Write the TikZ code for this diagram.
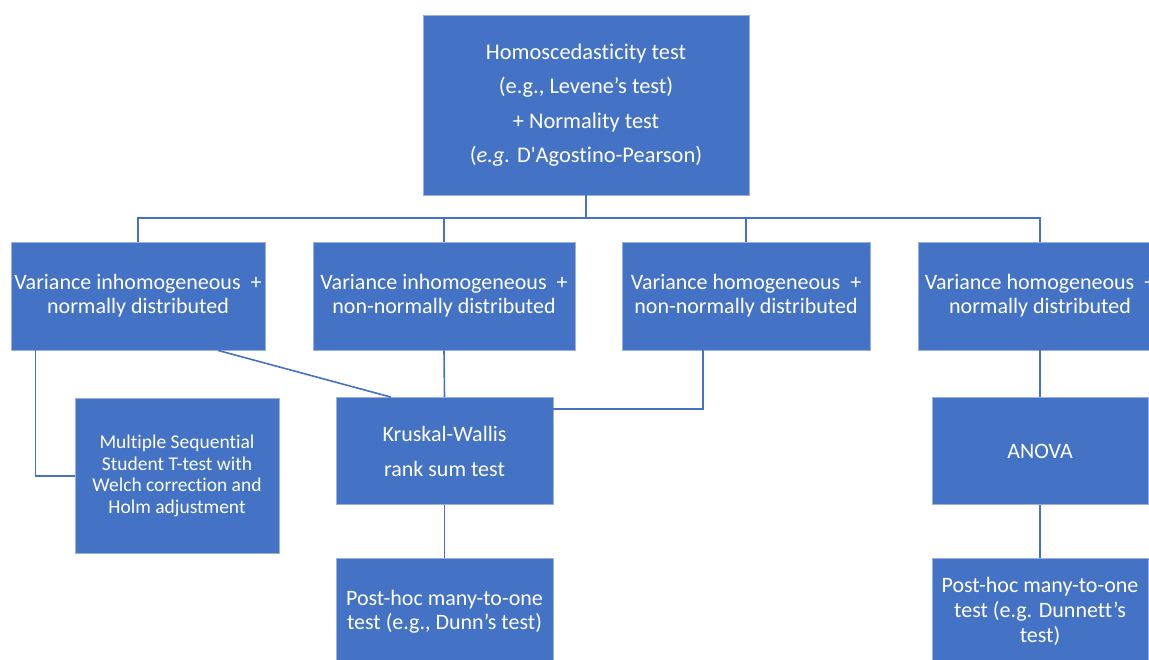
\documentclass[tikz,border=0pt]{standalone}
\usepackage{fontspec}
\newfontfamily\boxfont[Ligatures=NoCommon]{Carlito}
\usetikzlibrary{positioning}
\definecolor{boxblue}{HTML}{4472C4}
\tikzset{box/.style={draw=boxblue!55!white,line width=0.4pt,fill=boxblue,text=white,align=center,inner sep=0pt,font={\boxfont\fontsize{11}{12}\selectfont}}}
\tikzset{link/.style={draw=boxblue,line width=0.8pt}}

\begin{document}
\begin{tikzpicture}[x=0.5pt,y=-0.5pt]
\useasboundingbox (0,0) rectangle (1149,659);
\clip (0,0) rectangle (1149,659);
% top test
\node[box,minimum width=163pt,minimum height=90pt,font={\boxfont\fontsize{11.2}{17.25}\selectfont}]
  (homtest) at (586,105) {Homoscedasticity test\\(e.g., Levene’s test)\\+ Normality test\\(\textit{e.g.} D'Agostino-Pearson)};
% four outcomes
\node[box,minimum width=127pt,minimum height=54pt] (inhomnorm) at (138,296) {Variance inhomogeneous~~+\\normally distributed};
\node[box,minimum width=131pt,minimum height=54pt] (inhomnonnorm) at (444,296) {Variance inhomogeneous~~+\\non-normally distributed};
\node[box,minimum width=124pt,minimum height=54pt] (homnonnorm) at (746,296) {Variance homogeneous~~+\\non-normally distributed};
\node[box,minimum width=122pt,minimum height=54pt] (homnorm) at (1040,296) {Variance homogeneous~~+\\normally distributed};
% tests
\node[box,minimum width=102pt,minimum height=77.5pt,font={\boxfont\fontsize{9.75}{10.85}\selectfont}]
  (multit) at (177,476) {Multiple Sequential\\Student T-test with\\Welch correction and\\Holm adjustment};
\node[box,minimum width=108.5pt,minimum height=53.5pt,font={\boxfont\fontsize{11}{17.5}\selectfont}]
  (kruskal) at (444.5,451) {Kruskal-Wallis\\rank sum test};
\node[box,minimum width=108.5pt,minimum height=54pt] (dunn) at (444.5,612) {Post-hoc many-to-one\\test (e.g., Dunn’s test)};
\node[box,minimum width=108pt,minimum height=53.5pt] (anova) at (1040,451) {ANOVA};
\node[box,minimum width=108pt,minimum height=53pt,font={\boxfont\fontsize{11}{12.5}\selectfont}]
  (dunnett) at (1040,611) {Post-hoc many-to-one\\test (e.g. Dunnett’s\\test)};

\coordinate (bus) at (586,218);
\draw[link] (homtest.south) -- (bus);
\draw[link] (inhomnorm.north) |- (bus) -| (homnorm.north);
\draw[link] (inhomnonnorm.north) -- (inhomnonnorm.north |- bus);
\draw[link] (homnonnorm.north) -- (homnonnorm.north |- bus);

\draw[link] ([xshift=12.5pt]inhomnorm.south west) |- (multit.west);
\draw[link] ([xshift=40pt]inhomnorm.south) -- ([xshift=-26.75pt]kruskal.north);
\draw[link] (inhomnonnorm.south) -- (kruskal.north);
\draw[link] ([xshift=-21.5pt]homnonnorm.south) |- ([yshift=-6pt]kruskal.north east);
\draw[link] (kruskal.south) -- (dunn.north);
\draw[link] (homnorm.south) -- (anova.north);
\draw[link] (anova.south) -- (dunnett.north);
\end{tikzpicture}
\end{document}
